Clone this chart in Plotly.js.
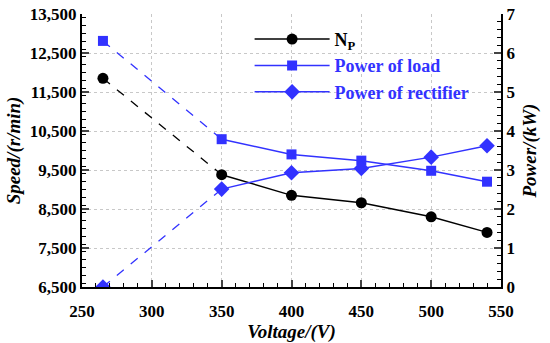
<!DOCTYPE html>
<html>
<head>
<meta charset="utf-8">
<script src="https://cdn.plot.ly/plotly-3.0.1.min.js"></script>
<style>html,body{margin:0;padding:0;background:#fff}#chart{width:550px;height:343px}</style>
</head>
<body>
<div id="chart"></div>
<script>
const voltage = [265, 350, 400, 450, 500, 540];
const speedNp = [11850, 9380, 8850, 8660, 8300, 7900];
const powerLoad = [6.31, 3.79, 3.40, 3.24, 2.98, 2.70];
const powerRectifier = [0, 2.51, 2.93, 3.04, 3.33, 3.62];
const seriesNames = ['N<sub>P</sub>', 'Power of load', 'Power of rectifier'];

const BLACK = '#000000';
const BLUE = '#3232ff';
const FONT = '"Times New Roman", "Liberation Serif", Times, serif';

function dashed(y, color, axis) {
  return {x: voltage.slice(0, 2), y: y.slice(0, 2), yaxis: axis, mode: 'lines',
    line: {color: color, width: 1.3, dash: '9px,9px'}, showlegend: false, hoverinfo: 'skip'};
}
function solid(y, color, axis, symbol, size, name) {
  return {x: voltage.slice(1), y: y.slice(1), yaxis: axis, mode: 'lines+markers', name: name,
    line: {color: color, width: 1.5}, marker: {symbol: symbol, size: size, color: color},
    legendgroup: name};
}
function firstMarker(y, color, axis, symbol, size, name) {
  return {x: voltage.slice(0, 1), y: y.slice(0, 1), yaxis: axis, mode: 'markers',
    marker: {symbol: symbol, size: size, color: color}, showlegend: false, legendgroup: name, hoverinfo: 'skip'};
}
const loadName = '<span style="color:#3232ff">' + seriesNames[1] + '</span>';
const rectName = '<span style="color:#3232ff">' + seriesNames[2] + '</span>';

const traces = [
  dashed(speedNp, BLACK, 'y'),
  dashed(powerLoad, BLUE, 'y2'),
  dashed(powerRectifier, BLUE, 'y2'),
  solid(speedNp, BLACK, 'y', 'circle', 11, seriesNames[0]),
  solid(powerLoad, BLUE, 'y2', 'square', 10, loadName),
  solid(powerRectifier, BLUE, 'y2', 'diamond', 12, rectName),
  firstMarker(speedNp, BLACK, 'y', 'circle', 11, seriesNames[0]),
  firstMarker(powerLoad, BLUE, 'y2', 'square', 10, loadName),
  firstMarker(powerRectifier, BLUE, 'y2', 'diamond', 12, rectName)
];

const tickFont = {family: FONT, size: 17, color: '#000', weight: 'bold'};
const titleFont = {family: FONT, size: 19, color: '#000', weight: 'bold', style: 'italic'};
const GRID = '#c8c8c8';

const layout = {
  width: 550, height: 343,
  margin: {l: 82, r: 49, t: 14, b: 56},
  paper_bgcolor: '#fff', plot_bgcolor: '#fff',
  font: {family: FONT},
  showlegend: true,
  legend: {x: 0.4, y: 0.975, xanchor: 'left', yanchor: 'top', bgcolor: 'rgba(0,0,0,0)',
    font: {family: FONT, size: 18, color: '#000', weight: 'bold'}, itemwidth: 75, tracegroupgap: 0},
  xaxis: {
    range: [250, 550], tick0: 250, dtick: 50, ticks: 'inside', ticklen: 7, tickwidth: 2,
    showline: true, linewidth: 2, linecolor: '#000', zeroline: false,
    showgrid: true, gridcolor: GRID, griddash: 'dot', gridwidth: 1,
    minor: {dtick: 10, ticks: 'inside', ticklen: 4, tickwidth: 1, tickcolor: '#000', showgrid: false},
    tickfont: tickFont, ticklabelstandoff: 8,
    title: {text: 'Voltage/(V)', font: titleFont, standoff: 0}
  },
  yaxis: {
    range: [6500, 13500], tick0: 6500, dtick: 1000, tickformat: ',', ticks: 'inside', ticklen: 7, tickwidth: 2,
    showline: true, linewidth: 2, linecolor: '#000', zeroline: false,
    showgrid: true, gridcolor: GRID, griddash: 'dot', gridwidth: 1,
    minor: {dtick: 200, ticks: 'inside', ticklen: 4, tickwidth: 1, tickcolor: '#000', showgrid: false},
    tickfont: tickFont,
    title: {text: 'Speed/(r/min)', font: titleFont, standoff: 4}
  },
  yaxis2: {
    range: [0, 7], tick0: 0, dtick: 1, overlaying: 'y', side: 'right', ticks: 'inside', ticklen: 7, tickwidth: 2,
    showline: true, linewidth: 2, linecolor: '#000', zeroline: false, showgrid: false,
    minor: {dtick: 0.2, ticks: 'inside', ticklen: 4, tickwidth: 1, tickcolor: '#000', showgrid: false},
    tickfont: tickFont,
    title: {text: 'Power/(kW)', font: titleFont, standoff: 8}
  }
};

Plotly.newPlot('chart', traces, layout, {staticPlot: true, displayModeBar: false});
</script>
</body>
</html>
